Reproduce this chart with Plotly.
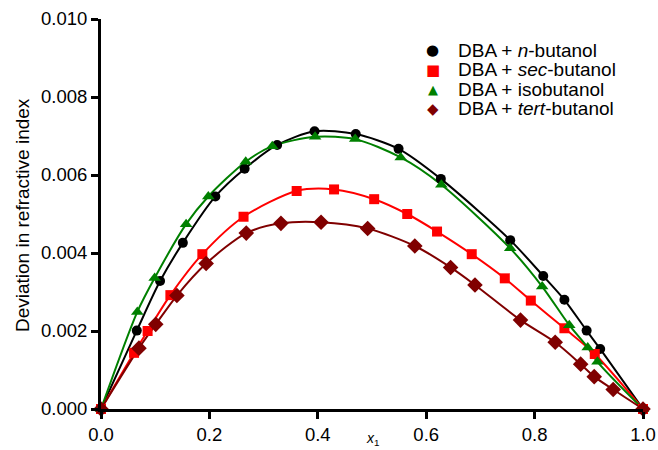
import plotly.graph_objects as go

# n-butanol
x_n = [0, 0.066, 0.109, 0.151, 0.211, 0.265, 0.325, 0.394, 0.470, 0.549, 0.627, 0.755, 0.816, 0.855, 0.896, 0.921, 1.0]
y_n = [0, 0.00201, 0.00328, 0.00426, 0.00545, 0.00616, 0.00677, 0.00712, 0.00705, 0.00667, 0.00590, 0.00433, 0.00341, 0.00280, 0.00201, 0.00154, 0]
# sec-butanol
x_s = [0, 0.061, 0.086, 0.128, 0.187, 0.263, 0.361, 0.430, 0.504, 0.565, 0.620, 0.684, 0.745, 0.793, 0.855, 0.911, 1.0]
y_s = [0, 0.00144, 0.00200, 0.00292, 0.00397, 0.00493, 0.00559, 0.00563, 0.00538, 0.00500, 0.00455, 0.00397, 0.00335, 0.00278, 0.00207, 0.00141, 0]
# isobutanol
x_i = [0, 0.067, 0.099, 0.157, 0.198, 0.267, 0.316, 0.395, 0.469, 0.553, 0.628, 0.755, 0.814, 0.864, 0.898, 0.916, 1.0]
y_i = [0, 0.00249, 0.00336, 0.00474, 0.00545, 0.00634, 0.00674, 0.00698, 0.00692, 0.00645, 0.00575, 0.00412, 0.00314, 0.00215, 0.00158, 0.00121, 0]
# tert-butanol
x_t = [0, 0.070, 0.101, 0.140, 0.194, 0.268, 0.332, 0.406, 0.492, 0.579, 0.645, 0.690, 0.774, 0.838, 0.885, 0.910, 0.945, 1.0]
y_t = [0, 0.00156, 0.00217, 0.00291, 0.00373, 0.00451, 0.00476, 0.00479, 0.00463, 0.00418, 0.00363, 0.00318, 0.00228, 0.00171, 0.00115, 0.00083, 0.00050, 0]

x_ticks = [0, 0.2, 0.4, 0.6, 0.8, 1.0]
y_ticks = [0, 0.002, 0.004, 0.006, 0.008, 0.010]

series = [
    ("DBA + <i>n</i>-butanol", x_n, y_n, "#000000", "circle", 10, "\u25CF", 15),
    ("DBA + <i>sec</i>-butanol", x_s, y_s, "#ff0000", "square", 10, "\u25A0", 15),
    ("DBA + isobutanol", x_i, y_i, "#008000", "triangle-up", 11, "\u25B2", 13),
    ("DBA + <i>tert</i>-butanol", x_t, y_t, "#800000", "diamond", 12, "\u25C6", 15),
]

fig = go.Figure()
for name, xs, ys, col, sym, sz, glyph, gsz in series:
    fig.add_trace(go.Scatter(x=xs, y=ys, mode="lines", line=dict(color=col, width=2, shape="spline", smoothing=0.8),
                             showlegend=False, hoverinfo="skip", cliponaxis=False))
for name, xs, ys, col, sym, sz, glyph, gsz in series:
    fig.add_trace(go.Scatter(x=xs, y=ys, mode="markers", name=name, showlegend=False,
                             marker=dict(color=col, symbol=sym, size=sz, line=dict(width=0)),
                             cliponaxis=False))

font = "Liberation Sans, Arial, Helvetica, sans-serif"

# legend drawn as text annotations (symbol + label)
ann = []
row_y = [0.9205, 0.8705, 0.8205, 0.770]
for (name, xs, ys, col, sym, sz, glyph, gsz), ry in zip(series, row_y):
    ann.append(dict(text=glyph, xref="paper", yref="paper", x=0.6125, y=ry, showarrow=False,
                    font=dict(family="DejaVu Sans", size=gsz, color=col), xanchor="center", yanchor="middle"))
    ann.append(dict(text=name, xref="paper", yref="paper", x=0.655, y=ry, showarrow=False,
                    font=dict(size=19, color="black"), xanchor="left", yanchor="middle"))

ann += [
    dict(text="Deviation in refractive index", xref="paper", yref="paper",
         x=-0.146, y=0.497, textangle=-90, showarrow=False, font=dict(size=19),
         xanchor="center", yanchor="middle"),
    dict(text="<i>x</i><sub>1</sub>", xref="paper", yref="paper",
         x=0.5, y=-0.078, showarrow=False, font=dict(size=14),
         xanchor="center", yanchor="middle"),
]

fig.update_layout(
    template="none",
    width=658, height=450,
    margin=dict(l=101, r=15, t=19, b=41, autoexpand=False),
    paper_bgcolor="white", plot_bgcolor="white",
    font=dict(family=font, size=18, color="black"),
    showlegend=False,
    xaxis=dict(range=[0, 1.0], tickvals=x_ticks, tickformat=".1f", automargin=False,
               showgrid=False, zeroline=False, showline=True, linecolor="black", linewidth=3,
               ticks="outside", ticklen=7, tickwidth=2.5, tickcolor="black",
               tickfont=dict(size=18.5)),
    yaxis=dict(range=[0, 0.010], tickvals=y_ticks, tickformat=".3f", automargin=False,
               showgrid=False, zeroline=False, showline=True, linecolor="black", linewidth=3,
               ticks="outside", ticklen=7, tickwidth=2.5, tickcolor="black",
               tickfont=dict(size=18.5)),
    annotations=ann,
)

fig.write_html("out.html", config={"displayModeBar": False},
               post_script="document.body.style.margin='0';document.body.style.overflow='hidden';")
